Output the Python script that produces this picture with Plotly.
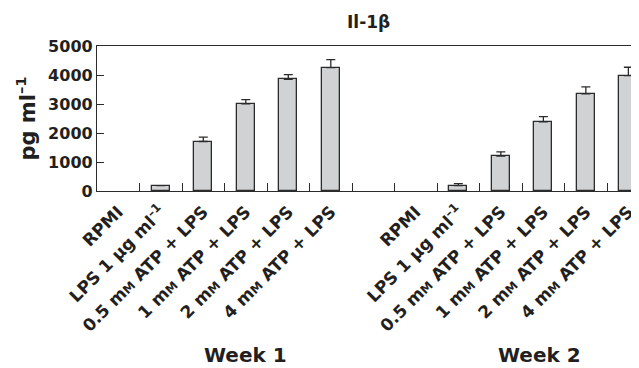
import plotly.graph_objects as go

# ---- data ----
categories = ["RPMI", "LPS 1 μg ml<sup>–1</sup>",
              "0.5 m<span style='font-size:12px'>M</span> ATP + LPS",
              "1 m<span style='font-size:12px'>M</span> ATP + LPS",
              "2 m<span style='font-size:12px'>M</span> ATP + LPS",
              "4 m<span style='font-size:12px'>M</span> ATP + LPS"]
week1_values = [None, 182, 1707, 3004, 3854, 4253]
week1_err = [None, None, 151, 150, 159, 276]
week2_values = [None, 182, 1204, 2385, 3348, 3978]
week2_err = [None, 70, 148, 182, 241, 289]
y_ticks = [0, 1000, 2000, 3000, 4000, 5000]
group_labels = ["Week 1", "Week 2"]
title_text = "Il-1β"
y_title = "pg ml<sup>–1</sup>"

FONT = "DejaVu Sans"
DARK = "#2b2b2b"
TXT = "#231f20"
n = len(categories)
x1 = list(range(n))
x2 = [i + n + 1 for i in range(n)]
x_all = x1 + x2
labels_all = categories + categories
boundaries = [i + 0.5 for i in range(len(x_all))]
xrange = [-0.5, 12.25]

# page body has an 8px margin; figure is sized/offset to compensate
W, H = 631, 360
ML, MT, MB, MR = 89, 38, 177, 0
OFF = 8

fig = go.Figure()
for xs, vals, errs in [(x1, week1_values, week1_err), (x2, week2_values, week2_err)]:
    fig.add_trace(go.Bar(
        x=xs, y=vals, width=0.42,
        marker=dict(color="#d0d2d4", line=dict(color=DARK, width=1.3)),
        error_y=dict(type="data", symmetric=False, array=errs,
                     arrayminus=[0 if e is not None else None for e in errs],
                     color=DARK, thickness=1.3, width=4.5),
        showlegend=False, hoverinfo="skip"))

# invisible trace to activate boundary-tick axis
fig.add_trace(go.Scatter(x=[0], y=[None], xaxis="x2", mode="markers",
                         showlegend=False, hoverinfo="skip"))

tickfont = dict(family=FONT, size=17, color=TXT, weight="bold")
fig.update_layout(
    width=W, height=H,
    margin=dict(l=ML, r=MR, t=MT, b=MB, autoexpand=False),
    paper_bgcolor="white", plot_bgcolor="white",
    bargap=0,
    xaxis=dict(range=xrange, tickmode="array", tickvals=x_all, ticktext=labels_all,
               tickangle=-45, ticks="", showline=True, linecolor=DARK, linewidth=1.3,
               mirror=True, showgrid=False, zeroline=False, tickfont=tickfont,
               ticklabelstandoff=3, automargin=False),
    xaxis2=dict(range=xrange, overlaying="x", anchor="y", side="bottom",
                tickmode="array", tickvals=boundaries, ticks="inside", ticklen=8,
                tickcolor=DARK, tickwidth=1, showticklabels=False, showline=False,
                showgrid=False, zeroline=False, automargin=False),
    yaxis=dict(range=[0, 5000], tickmode="array", tickvals=y_ticks,
               ticks="inside", ticklen=7, tickcolor=DARK, tickwidth=1,
               showline=True, linecolor=DARK, linewidth=1.3, showgrid=False,
               zeroline=False, automargin=False,
               tickfont=dict(family=FONT, size=16, color=TXT, weight="bold"),
               title=dict(text=y_title, standoff=6,
                          font=dict(family=FONT, size=21, color=TXT, weight="bold"))),
)
pw = W - ML - MR
ph = H - MT - MB
def px_to_paper(px, py):
    # px, py: screenshot pixel coordinates
    return (px - OFF - ML) / pw, (H - MB - (py - OFF)) / ph
tx, ty = px_to_paper(368, 22)
fig.add_annotation(text=title_text, x=tx, xref="paper", y=ty, yref="paper", showarrow=False,
                   xanchor="center", yanchor="middle",
                   font=dict(family=FONT, size=17, color=TXT, weight="bold"))
gy = px_to_paper(0, 355)[1]
for label, gx in zip(group_labels, [3.0, 9.9]):
    fig.add_annotation(text=label, x=gx, xref="x", y=gy, yref="paper", showarrow=False,
                       xanchor="center", yanchor="middle",
                       font=dict(family=FONT, size=20, color=TXT, weight="bold"))

fig.write_html("out.html")
